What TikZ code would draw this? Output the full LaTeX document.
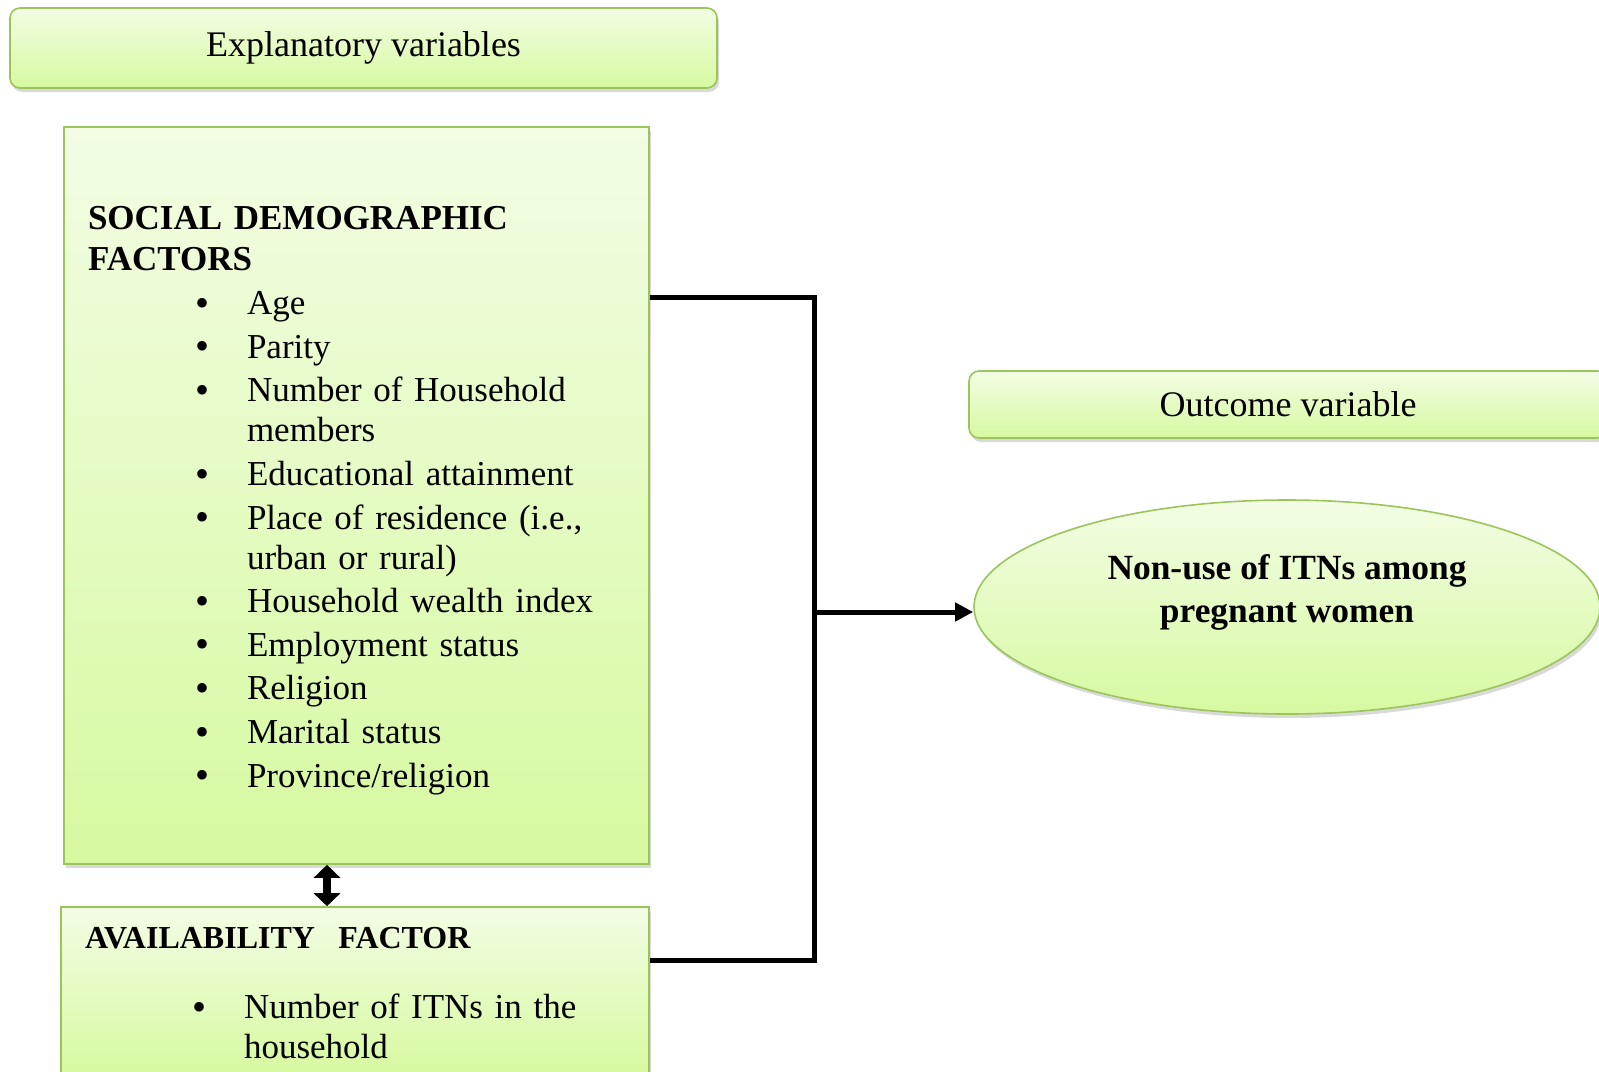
\documentclass[tikz,border=0pt]{standalone}
\usepackage{fontspec}
\setmainfont{Liberation Serif}
\usetikzlibrary{arrows.meta,shapes.geometric,shadows}
\definecolor{boxtop}{HTML}{F2FDE4}
\definecolor{boxbot}{HTML}{D7F9A0}
\definecolor{boxline}{HTML}{9BC45A}
\newcommand{\itembul}{\hspace*{53.5pt}\makebox[26pt][l]{\raisebox{-0.8pt}{\fontsize{20}{20}\selectfont\textbullet}}}
\newcommand{\itemcont}{\hspace*{79.5pt}}

\begin{document}
\begin{tikzpicture}[x=0.5pt,y=-0.5pt,
	greenfill/.style={draw=boxline, line width=0.8pt, top color=boxtop, bottom color=boxbot, drop shadow={shadow xshift=1pt, shadow yshift=-2pt, opacity=0.3}},
	varbox/.style={greenfill, rounded corners=5pt, inner sep=0pt, font=\fontsize{18}{20}\selectfont},
	factorbox/.style={greenfill, inner sep=0pt, inner xsep=12pt, align=left, font=\fontsize{17.5}{20}\selectfont},
	outcomeell/.style={greenfill, ellipse, inner sep=0pt, minimum width=313pt, minimum height=107pt, align=center, font=\fontsize{17.7}{21.5}\selectfont\bfseries},
	link/.style={line width=2.5pt},
	bothway/.style={line width=4pt, {Triangle[length=6.5pt,width=13pt]}-{Triangle[length=6.5pt,width=13pt]}}]
	\useasboundingbox (0,0) rectangle (1599,1071);
	\node[varbox, minimum width=353.5pt, minimum height=40pt] (expvar) at (363.5,48) {Explanatory variables};
	\node[varbox, minimum width=319pt, minimum height=33.5pt] (outvar) at (1288,404.5) {Outcome variable};
	\node[factorbox, minimum width=292.5pt, minimum height=368.5pt, text width=268.5pt] (sdf) at (356.5,495.5) {\rule{0pt}{16.6pt}\textbf{SOCIAL DEMOGRAPHIC}\\[0.5pt]
		\textbf{FACTORS}\\[2pt]
		\itembul Age\\[1.8pt]
		\itembul Parity\\[1.8pt]
		\itembul Number of Household\\
		\itemcont members\\[1.8pt]
		\itembul Educational attainment\\[1.8pt]
		\itembul Place of residence (i.e.,\\
		\itemcont urban or rural)\\[1.8pt]
		\itembul Household wealth index\\[1.8pt]
		\itembul Employment status\\[1.8pt]
		\itembul Religion\\[1.8pt]
		\itembul Marital status\\[1.8pt]
		\itembul Province/religion};
	\node[factorbox, minimum width=294pt, minimum height=84pt, text width=270pt] (avail) at (355,991) {\rule{0pt}{13pt}{\fontsize{16}{18}\selectfont\bfseries AVAILABILITY~~FACTOR}\\[15pt]
		\itembul Number of ITNs in the\\
		\itemcont household};
	\node[outcomeell, text depth=18pt] (ell) at (1287,607) {Non-use of ITNs among\\pregnant women};
	% connectors
	\coordinate (jn) at (814,612);
	\draw[link] ([yshift=-85.5pt]sdf.north east) -| (jn) |- ([yshift=-27pt]avail.north east);
	\draw[link, -{Triangle[length=9pt,width=9pt]}] (jn) -- (ell.west |- jn);
	\draw[bothway] ([xshift=-14.75pt]sdf.south) -- ([xshift=-14.75pt]sdf.south |- avail.north);
\end{tikzpicture}
\end{document}
